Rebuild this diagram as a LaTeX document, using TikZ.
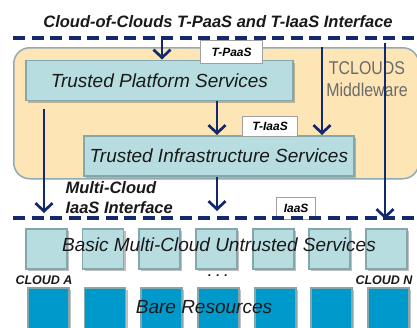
\documentclass[tikz,border=0pt]{standalone}
\usepackage{fontspec}
\setmainfont{Liberation Sans}
\newfontfamily\narrowsans[FakeStretch=0.86]{Liberation Sans}
\usetikzlibrary{arrows.meta,shadows}

\definecolor{navy}{HTML}{12296B}
\definecolor{mwfill}{HTML}{FDE5B5}
\definecolor{mwline}{HTML}{92AAB2}
\definecolor{svcfill}{HTML}{B8DDE1}
\definecolor{svcline}{HTML}{84A7AC}
\definecolor{barefill}{HTML}{0099CC}
\definecolor{tagline}{HTML}{A0A0A0}
\definecolor{mwtext}{HTML}{6A6A6A}

\tikzset{
  boxshadow/.style={drop shadow={shadow xshift=2.5pt,shadow yshift=-2.5pt,opacity=.35,fill=black!70}},
  svcbox/.style={draw=svcline,line width=1.8pt,fill=svcfill,boxshadow,inner sep=0pt,anchor=north west},
  bigtext/.style={font=\fontsize{19}{22}\selectfont\itshape,text=black!90},
  tagbox/.style={draw=tagline,line width=1.2pt,fill=white,inner sep=0pt,anchor=north west,
    font=\fontsize{12}{14}\selectfont\bfseries\itshape},
  cellbox/.style={draw=svcline,line width=1.8pt,fill=svcfill,boxshadow,minimum width=41pt,
    minimum height=40pt,inner sep=0pt,anchor=north west},
  barebox/.style={draw=svcline,line width=1.8pt,fill=barefill,boxshadow,minimum width=41pt,
    minimum height=44pt,inner sep=0pt,anchor=north west},
  ifline/.style={draw=navy,line width=3.4pt,dash pattern=on 12pt off 6.5pt},
  arr/.style={draw=navy,line width=2.7pt,-{Straight Barb[length=8pt,width=17pt]}},
  smalllabel/.style={font=\fontsize{12.5}{14}\selectfont\bfseries\itshape,text=black!90},
}

\begin{document}
\begin{tikzpicture}[x=1pt,y=-1pt]
\useasboundingbox[fill=white] (0,0) rectangle (417,327);

% title above the upper interface
\node[font=\fontsize{16.5}{19}\selectfont\bfseries\itshape,text=black!90] (title) at (218,22)
  {Cloud-of-Clouds T-PaaS and T-IaaS Interface};

% middleware frame
\node[draw=mwline,line width=1.5pt,fill=mwfill,rounded corners=16pt,anchor=north west,
  minimum width=405pt,minimum height=131pt,inner sep=0pt] (mw) at (13,47) {};
\node[font=\fontsize{18.5}{22}\selectfont\narrowsans,text=mwtext] (tc) at (367,68) {TCLOUDS};
\node[font=\fontsize{18.5}{22}\selectfont\narrowsans,text=mwtext] (mwname) at (367,90) {Middleware};

% trusted services
\node[svcbox,minimum width=267pt,minimum height=40pt,bigtext] (tps) at (25,59.5)
  {Trusted Platform Services};
\node[svcbox,minimum width=270pt,minimum height=40pt,bigtext] (tis) at (83,135)
  {Trusted Infrastructure Services};

% interface tags
\node[tagbox,minimum width=62pt,minimum height=23pt] (tpaas) at (200,40) {T-PaaS};
\node[tagbox,minimum width=55pt,minimum height=20pt] (tiaas) at (242,116) {T-IaaS};
\node[tagbox,minimum width=39pt,minimum height=22pt] (iaas) at (276,197) {IaaS};

% interface lines
\coordinate (topL) at (13,38);
\coordinate (topR) at (417,38);
\coordinate (botL) at (13,218);
\coordinate (botR) at (417,218);
\draw[ifline] (topL) -- (topR);
\draw[ifline] (botL) -- (botR);

% connectors
\coordinate (a1s) at (162,38);
\coordinate (a3s) at (322,47);
\coordinate (a4s) at (385,43);
\coordinate (a4e) at (385,219);
\coordinate (a5s) at (44,109);
\coordinate (a5e) at (44,213);
\coordinate (a6e) at (217,211);
\draw[arr] (a1s) -- (a1s |- tps.north);
\draw[arr] (tps.south -| 217,0) -- (tis.north -| 217,0);
\draw[arr] (a3s) -- (a3s |- tis.north);
\draw[arr] (a4s) -- (a4e);
\draw[arr] (a5s) -- (a5e);
\draw[arr] (tis.south -| 217,0) -- (a6e);

\node[font=\fontsize{16.5}{20}\selectfont\bfseries\itshape,text=black!90,align=left,anchor=west]
  (mciaas) at (62,198) {Multi-Cloud\\IaaS Interface};

% untrusted cloud services row
\foreach \i/\x in {1/25,2/81.5,3/138,4/195,5/252,6/308,7/365}
  \node[cellbox] (cell\i) at (\x,228) {};
\node[bigtext] (basic) at (219,245) {Basic Multi-Cloud Untrusted Services};

\node[smalllabel] (clA) at (44,280) {CLOUD A};
\node[smalllabel] (clN) at (384,280) {CLOUD N};
\node[smalllabel] (dots) at (218,276) {. . .};

% bare resources row
\foreach \i/\x in {1/27,2/83.5,3/140,4/197,5/254,6/310,7/367}
  \node[barebox] (bare\i) at (\x,287) {};
\node[bigtext] (bare) at (204,307) {Bare Resources};
\end{tikzpicture}
\end{document}
